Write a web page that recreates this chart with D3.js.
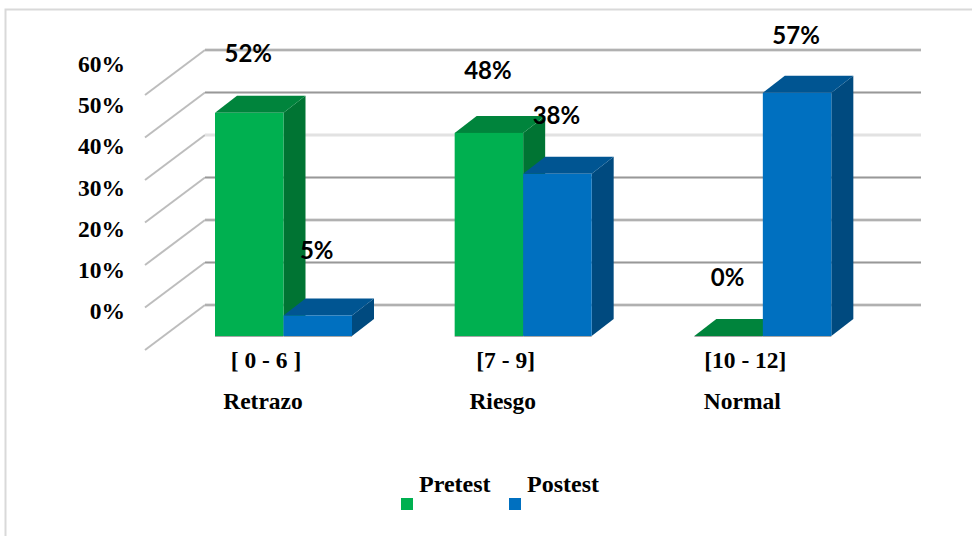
<!DOCTYPE html>
<html>
<head>
<meta charset="utf-8">
<script src="https://cdn.jsdelivr.net/npm/d3@7"></script>
<style>
  html, body { margin: 0; padding: 0; background: #fff; }
  svg { display: block; }
  .serif { font-family: "Liberation Serif", serif; font-weight: bold; fill: #000; }
  .val { font-family: "Lato", sans-serif; font-weight: bold; fill: #000; font-size: 24px; }
</style>
</head>
<body>
<script>
// values, in percent (labels show them rounded)
var ranges = ["[ 0 - 6 ]", "[7 - 9]", "[10 - 12]"];
var levels = ["Retrazo", "Riesgo", "Normal"];
var seriesNames = ["Pretest", "Postest"];
var pretest = [52.3, 47.6, 0];
var postest = [4.8, 38, 57];
var ticks = [0, 10, 20, 30, 40, 50, 60];

var width = 972, height = 536;
var depthX = 22, depthY = 17;       // bar depth
var wallX = 60, wallY = 45;         // side wall of the 3d box

var colors = {
  Pretest: { front: "#00B050", top: "#00843C", side: "#007433" },
  Postest: { front: "#0070C0", top: "#005592", side: "#004A7F" }
};

// the data labels were hand placed in the original, so they are not all the same height above the bar
var labelLift = {
  Pretest: [59, 62, 58],
  Postest: [64.5, 58, 57]
};

var svg = d3.select("body").append("svg")
  .attr("width", width)
  .attr("height", height);

// page frame
svg.append("rect")
  .attr("x", 5.5).attr("y", 9.5)
  .attr("width", 980).attr("height", 540)
  .attr("fill", "#fff")
  .attr("stroke", "#d9d9d9")
  .attr("stroke-width", 2);

// x: groups, then the two bars in a group
var x = d3.scaleBand().domain(d3.range(3)).range([136, 855]);
var xInner = d3.scaleBand().domain(seriesNames).range([79, 216]);

// y for the bar fronts, and y for the back wall
var y = d3.scaleLinear().domain([0, 60]).range([336, 336 - 256]);
var yWall = d3.scaleLinear().domain([0, 60]).range([305, 50]);

// gridlines on side wall and back wall
var grid = svg.append("g").selectAll("g")
  .data(ticks)
  .enter().append("g")
  .attr("fill", "none");

grid.append("line")
  .attr("x1", 205 - wallX)
  .attr("y1", function(d) { return yWall(d) + wallY; })
  .attr("x2", 205)
  .attr("y2", function(d) { return yWall(d); })
  .attr("stroke", "#bdbdbd")
  .attr("stroke-width", 2);

grid.append("line")
  .attr("x1", 205).attr("x2", 921)
  .attr("y1", function(d) { return yWall(d); })
  .attr("y2", function(d) { return yWall(d); })
  .attr("stroke", function(d) { return d == 40 ? "#e2e2e2" : "#c9c9c9"; })
  .attr("stroke-width", 3);

grid.append("line")
  .attr("x1", 205).attr("x2", 921)
  .attr("y1", function(d) { return yWall(d); })
  .attr("y2", function(d) { return yWall(d); })
  .attr("stroke", function(d) { return d == 40 ? "#e2e2e2" : "#989898"; })
  .attr("stroke-width", 1);

// bars
var bars = [];
ranges.forEach(function(r, i) {
  bars.push({ group: i, name: "Pretest", value: pretest[i] });
});
ranges.forEach(function(r, i) {
  bars.push({ group: i, name: "Postest", value: postest[i] });
});

svg.append("g").selectAll("g")
  .data(bars)
  .enter().append("g")
  .each(function(d) {
    var g = d3.select(this);
    var x0 = x(d.group) + xInner(d.name);
    var x1 = x0 + xInner.bandwidth();
    var y0 = y(0), y1 = y(d.value);
    var c = colors[d.name];

    // side
    if (d.value > 0) {
      g.append("path")
        .attr("d", "M" + x1 + "," + y1 + "L" + (x1 + depthX) + "," + (y1 - depthY) +
          "L" + (x1 + depthX) + "," + (y0 - depthY) + "L" + x1 + "," + y0 + "Z")
        .attr("fill", c.side);
    }
    // top
    g.append("path")
      .attr("d", "M" + x0 + "," + y1 + "L" + (x0 + depthX) + "," + (y1 - depthY) +
        "L" + (x1 + depthX) + "," + (y1 - depthY) + "L" + x1 + "," + y1 + "Z")
      .attr("fill", c.top);
    // front
    if (d.value > 0) {
      g.append("rect")
        .attr("x", x0).attr("y", y1)
        .attr("width", x1 - x0).attr("height", y0 - y1)
        .attr("fill", c.front);
    }
  });

// thin grey edge along the foot of the bars
svg.append("g").selectAll("line")
  .data(bars)
  .enter().append("line")
  .attr("x1", function(d) { return x(d.group) + xInner(d.name); })
  .attr("x2", function(d) { return x(d.group) + xInner(d.name) + xInner.bandwidth(); })
  .attr("y1", y(0) + 0.5)
  .attr("y2", y(0) + 0.5)
  .attr("stroke", "#a6a6a6")
  .attr("stroke-width", 1);

// value labels
svg.append("g").selectAll("text")
  .data(bars)
  .enter().append("text")
  .attr("class", "val")
  .attr("text-anchor", "middle")
  .attr("x", function(d) { return x(d.group) + xInner(d.name) + xInner.bandwidth() / 2 - 1; })
  .attr("y", function(d) { return y(d.value) - labelLift[d.name][d.group] + 8; })
  .text(function(d) { return Math.round(d.value) + "%"; });

// y axis labels sit off the gridlines, spacing is a bit tighter
var yLabels = d3.scaleLinear().domain([0, 60]).range([311, 64]);
var axis = svg.append("g")
  .attr("transform", "translate(125,0)")
  .call(d3.axisLeft(yLabels).tickValues(ticks).tickSize(0).tickPadding(0)
    .tickFormat(function(d) { return d + "%"; }));
axis.select(".domain").remove();
axis.selectAll("text")
  .attr("class", "serif")
  .style("font-size", "23.5px")
  .attr("font-family", null);

// category labels, two rows
var cats = svg.append("g");
cats.selectAll(".range")
  .data(ranges)
  .enter().append("text")
  .attr("class", "serif range")
  .attr("text-anchor", "middle")
  .style("font-size", "23.5px")
  .attr("x", function(d, i) { return x(i) + 130; })
  .attr("y", 368)
  .text(function(d) { return d; });
cats.selectAll(".level")
  .data(levels)
  .enter().append("text")
  .attr("class", "serif level")
  .attr("text-anchor", "middle")
  .style("font-size", "23.5px")
  .attr("x", function(d, i) { return x(i) + 127; })
  .attr("y", 409)
  .text(function(d) { return d; });

// legend
var legendX = d3.scaleOrdinal().domain(seriesNames).range([401, 509]);
var legend = svg.append("g").selectAll("g")
  .data(seriesNames)
  .enter().append("g")
  .attr("transform", function(d) { return "translate(" + legendX(d) + ",0)"; });
legend.append("rect")
  .attr("x", 0).attr("y", 498)
  .attr("width", 12).attr("height", 12)
  .attr("fill", function(d) { return colors[d].front; });
legend.append("text")
  .attr("class", "serif")
  .style("font-size", "24px")
  .attr("x", 18).attr("y", 492)
  .text(function(d) { return d; });
</script>
</body>
</html>
